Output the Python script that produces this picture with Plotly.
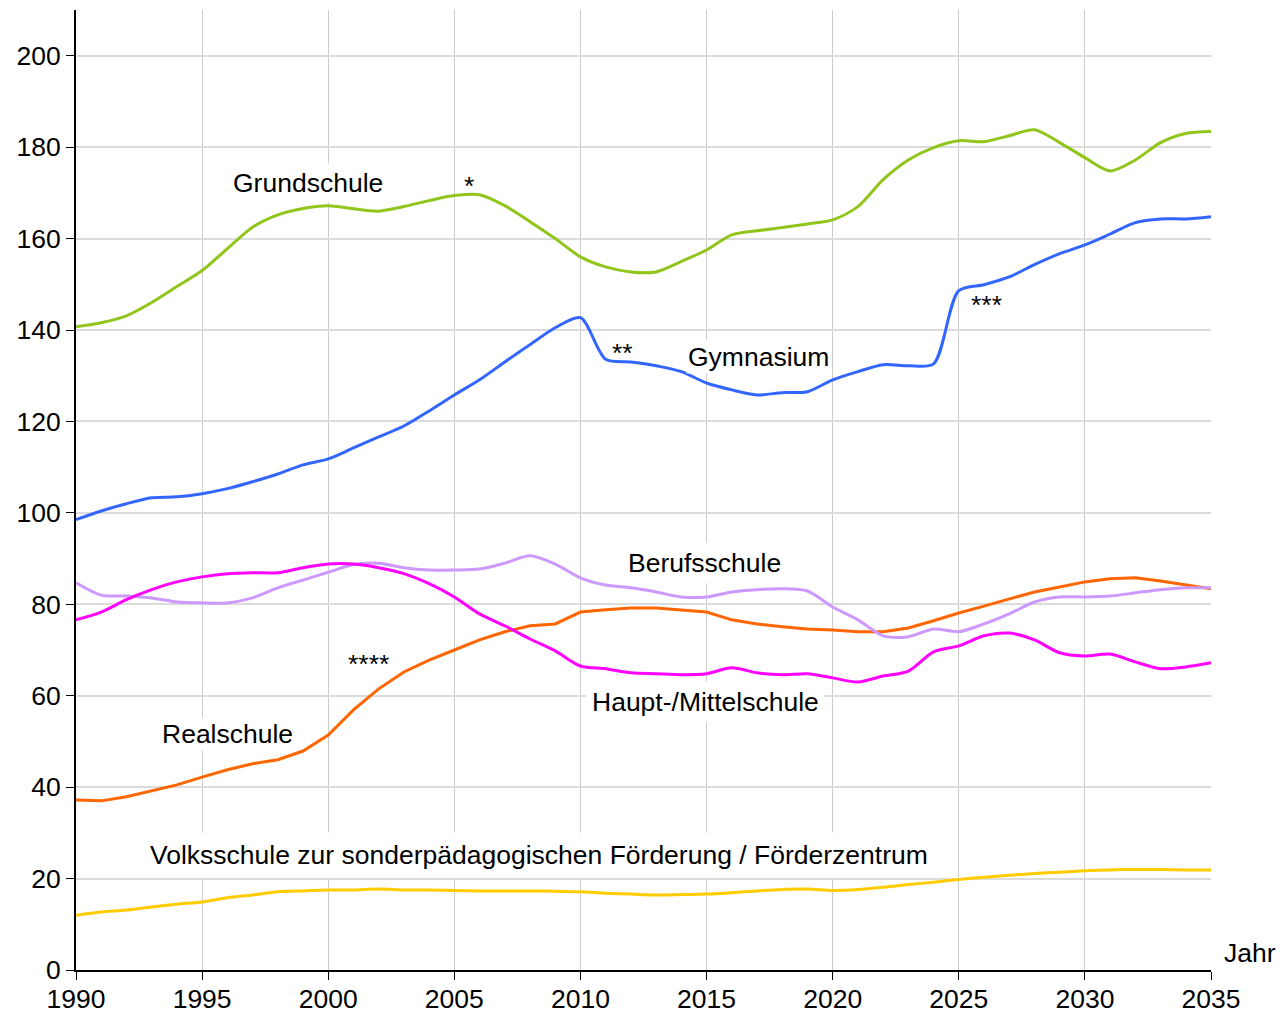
import plotly.graph_objects as go

years = list(range(1990, 2036))

grundschule = [140.7, 141.6, 143.1, 146.0, 149.5, 153.0, 157.8, 162.5, 165.2, 166.6, 167.2, 166.5, 166.0, 167.0, 168.3, 169.4, 169.6, 167.2, 163.7, 160.0, 156.0, 153.8, 152.7, 152.7, 155.0, 157.5, 160.8, 161.7, 162.4, 163.2, 164.1, 167.0, 172.9, 177.2, 179.9, 181.4, 181.2, 182.5, 183.8, 181.0, 177.7, 174.8, 177.2, 181.0, 183.0, 183.4]
gymnasium = [98.5, 100.4, 102.0, 103.3, 103.5, 104.2, 105.3, 106.8, 108.5, 110.5, 111.8, 114.2, 116.6, 119.0, 122.3, 125.8, 129.1, 133.0, 136.8, 140.5, 142.7, 133.6, 133.0, 132.2, 130.9, 128.4, 126.9, 125.8, 126.3, 126.5, 129.1, 130.9, 132.4, 132.2, 132.6, 148.6, 149.9, 151.6, 154.3, 156.7, 158.6, 161.0, 163.5, 164.3, 164.3, 164.8]
berufsschule = [84.7, 82.0, 81.8, 81.4, 80.5, 80.3, 80.3, 81.4, 83.6, 85.3, 87.0, 88.7, 89.0, 88.0, 87.5, 87.5, 87.7, 89.0, 90.6, 88.8, 85.8, 84.2, 83.6, 82.7, 81.6, 81.6, 82.7, 83.2, 83.4, 82.9, 79.4, 76.6, 73.1, 72.9, 74.6, 74.0, 75.7, 77.9, 80.5, 81.6, 81.6, 81.8, 82.5, 83.2, 83.6, 83.6]
realschule = [37.2, 37.0, 37.9, 39.2, 40.5, 42.2, 43.8, 45.1, 46.0, 47.9, 51.4, 56.9, 61.5, 65.2, 67.8, 70.0, 72.2, 74.0, 75.3, 75.7, 78.3, 78.8, 79.2, 79.2, 78.8, 78.3, 76.6, 75.7, 75.1, 74.6, 74.4, 74.0, 74.0, 74.8, 76.4, 78.1, 79.6, 81.2, 82.7, 83.8, 84.9, 85.6, 85.8, 85.1, 84.2, 83.4]
hauptschule = [76.6, 78.3, 81.0, 83.2, 84.9, 86.0, 86.7, 86.9, 86.9, 88.0, 88.8, 88.8, 88.0, 86.7, 84.5, 81.6, 77.9, 75.3, 72.4, 69.8, 66.5, 65.9, 65.0, 64.8, 64.6, 64.8, 66.1, 65.0, 64.6, 64.8, 63.9, 63.0, 64.3, 65.4, 69.6, 70.9, 73.1, 73.7, 72.2, 69.4, 68.7, 69.1, 67.4, 65.9, 66.3, 67.2]
volksschule = [12.0, 12.7, 13.1, 13.8, 14.4, 14.9, 15.8, 16.4, 17.1, 17.3, 17.5, 17.5, 17.7, 17.5, 17.5, 17.4, 17.3, 17.3, 17.3, 17.2, 17.1, 16.8, 16.6, 16.4, 16.5, 16.6, 16.9, 17.3, 17.6, 17.7, 17.4, 17.6, 18.1, 18.7, 19.2, 19.8, 20.3, 20.7, 21.1, 21.4, 21.7, 21.9, 22.0, 22.0, 21.9, 21.9]

x_ticks = [1990, 1995, 2000, 2005, 2010, 2015, 2020, 2025, 2030, 2035]
y_ticks = [0, 20, 40, 60, 80, 100, 120, 140, 160, 180, 200]

series = [
    ("Volksschule", volksschule, "#ffcc00", "spline"),
    ("Realschule", realschule, "#ff6600", "linear"),
    ("Berufsschule", berufsschule, "#cc99ff", "spline"),
    ("Haupt-/Mittelschule", hauptschule, "#ff00ff", "spline"),
    ("Gymnasium", gymnasium, "#3366ff", "spline"),
    ("Grundschule", grundschule, "#92c51b", "spline"),
]

fig = go.Figure()
for name, vals, color, shape in series:
    fig.add_trace(go.Scatter(x=years, y=vals, mode="lines", name=name,
                             line=dict(color=color, width=3, shape=shape, smoothing=0.8)))

FONT = "Liberation Sans, Arial, Helvetica, sans-serif"
FS = 26.5
labels = [
    ("Grundschule", 1999.2, 172.2, True, 4),
    ("*", 2005.6, 171.6, False, 0),
    ("Gymnasium", 2017.05, 134.1, True, 1),
    ("**", 2011.65, 135.0, False, 0),
    ("***", 2026.1, 145.5, False, 0),
    ("Berufsschule", 2014.9, 89.0, True, 5),
    ("Haupt-/Mittelschule", 2014.94, 58.6, True, 5),
    ("****", 2001.6, 67.0, False, 0),
    ("Realschule", 1996.0, 51.6, True, 1),
    ("Volksschule zur sonderpädagogischen Förderung / Förderzentrum", 2008.36, 25.2, True, 7),
]
for text, x, y, bg, pad in labels:
    fig.add_annotation(x=x, y=y, text=text, showarrow=False,
                       font=dict(family=FONT, size=FS, color="black"),
                       bgcolor="white" if bg else "rgba(0,0,0,0)", borderpad=pad,
                       xanchor="center", yanchor="middle")

fig.add_annotation(x=1.0097, y=0.0177, xref="paper", yref="paper", text="Jahr",
                   showarrow=False, xanchor="left", yanchor="middle",
                   font=dict(family=FONT, size=FS, color="black"))

fig.update_layout(
    width=1278, height=1006,
    margin=dict(l=68, r=75, t=2, b=44),
    paper_bgcolor="white", plot_bgcolor="white",
    showlegend=False,
    font=dict(family=FONT, size=FS, color="black"),
    xaxis=dict(range=[1990, 2035], tickvals=x_ticks, ticktext=[str(t) for t in x_ticks],
               showgrid=True, gridcolor="#cccccc", gridwidth=1,
               showline=True, linecolor="black", linewidth=2,
               ticks="outside", ticklen=8, tickcolor="black", zeroline=False,
               ticklabelstandoff=-4, automargin=False),
    yaxis=dict(range=[0, 210], tickvals=y_ticks, ticktext=[str(t) for t in y_ticks],
               showgrid=True, gridcolor="#dcdcdc", gridwidth=1.5,
               showline=True, linecolor="black", linewidth=2,
               ticks="outside", ticklen=8, tickcolor="black", zeroline=False,
               automargin=False),
)

fig.write_html("out.html")
